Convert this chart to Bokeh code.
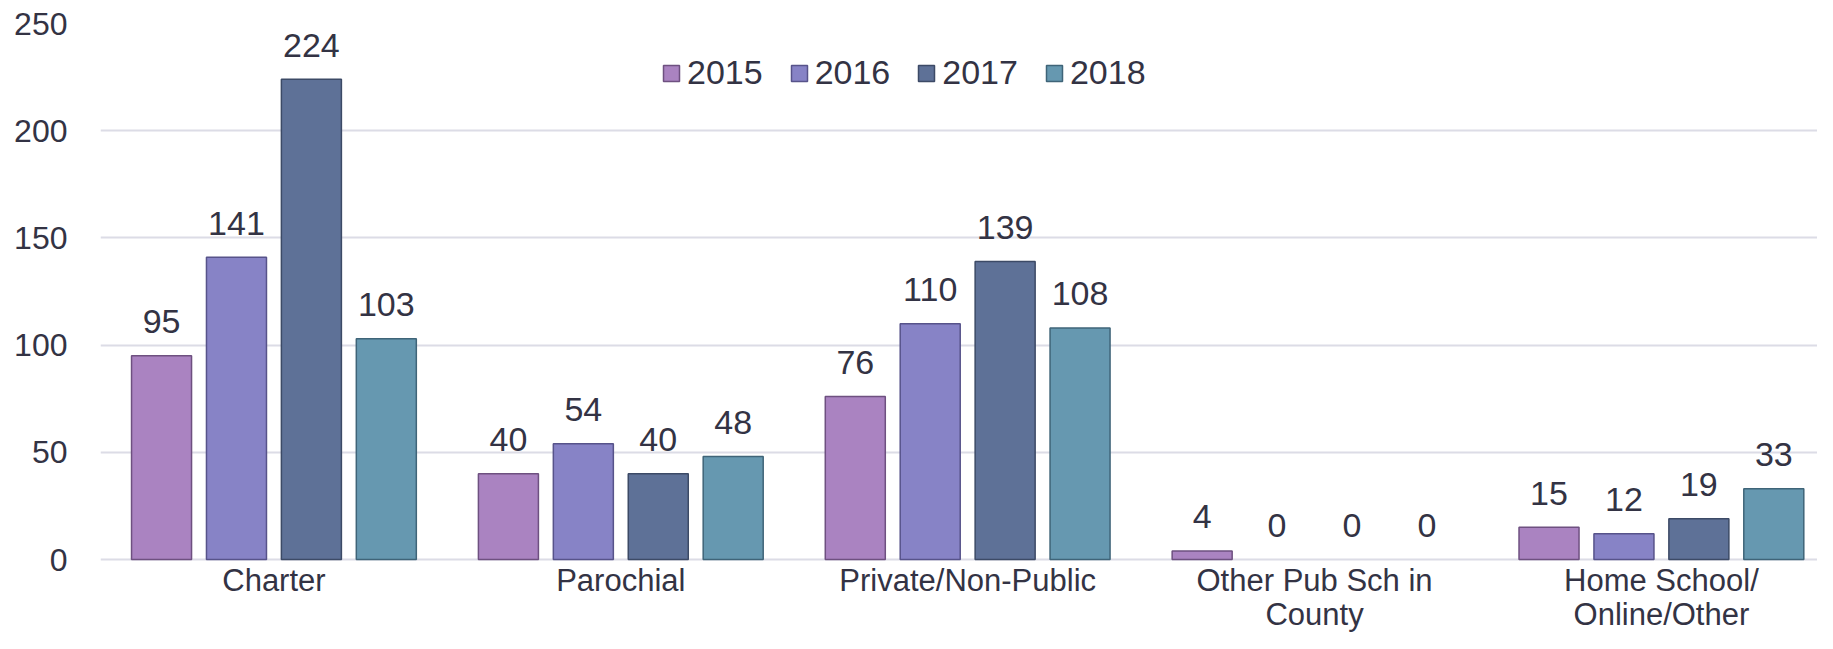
from bokeh.plotting import figure
from bokeh.models import Range1d, FixedTicker, Legend, LegendItem, ColumnDataSource
from bokeh.core.properties import value
from bokeh.embed import file_html
from bokeh.resources import INLINE

# ---- data ----
categories = ["Charter", "Parochial", "Private/Non-Public",
              "Other Pub Sch in County", "Home School/ Online/Other"]
tick_labels = ["Charter", "Parochial", "Private/Non-Public",
               "Other Pub Sch in\nCounty", "Home School/\nOnline/Other"]
years = ["2015", "2016", "2017", "2018"]
v2015 = [95, 40, 76, 4, 15]
v2016 = [141, 54, 110, 0, 12]
v2017 = [224, 40, 139, 0, 19]
v2018 = [103, 48, 108, 0, 33]
y_ticks = [0, 50, 100, 150, 200, 250]

series = [v2015, v2016, v2017, v2018]

# ---- styles ----
fills = ["#AA83C1", "#8783C6", "#5E7197", "#6698B0"]
edges = ["#6E5080", "#57538A", "#3C4A66", "#3F6478"]
TEXT = "#333344"
FONT = "Liberation Sans"
BAR_W = 0.173
STEP = 0.216

# frame runs to the bottom edge; the space below zero holds the category labels
p = figure(width=1817, height=633, output_backend="svg", toolbar_location=None,
           x_range=Range1d(-0.5, 4.45), y_range=Range1d(-34.5, 250),
           min_border_left=100, min_border_right=0, min_border_top=23,
           min_border_bottom=0)
p.outline_line_color = None
p.background_fill_color = "white"
p.border_fill_color = "white"

idx = list(range(len(categories)))
renderers = []
for j, (yr, vals) in enumerate(zip(years, series)):
    off = (j - 1.5) * STEP
    src = ColumnDataSource(dict(
        x=[i + off for i in idx],
        top=vals,
        label=[str(v) for v in vals],
        la=[1.0 if v > 0 else 0.0 for v in vals],
    ))
    r = p.vbar(x="x", top="top", bottom=0, width=BAR_W, source=src,
               fill_color=fills[j], line_color=edges[j], line_width=1.5,
               line_alpha="la")
    renderers.append(r)
    p.text(x="x", y="top", text="label", source=src, text_align="center",
           text_baseline="middle", y_offset=-34, text_color=TEXT,
           text_font=value(FONT), text_font_size="34px")

# category labels under each group
cat_src = ColumnDataSource(dict(x=idx, y=[0] * len(idx), text=tick_labels))
p.text(x="x", y="y", text="text", source=cat_src, text_align="center",
       text_baseline="top", y_offset=3, text_color=TEXT,
       text_font=value(FONT), text_font_size="31px", text_line_height=0.98)

p.xaxis.visible = False

p.yaxis.ticker = FixedTicker(ticks=y_ticks)
p.yaxis.major_label_text_font = FONT
p.yaxis.major_label_text_font_size = "32px"
p.yaxis.major_label_text_color = TEXT
p.yaxis.major_label_standoff = 33
p.yaxis.major_tick_out = 0
p.yaxis.major_tick_in = 0
p.yaxis.axis_line_color = None
p.yaxis.major_tick_line_color = None
p.yaxis.minor_tick_line_color = None

p.xgrid.grid_line_color = None
p.ygrid.ticker = FixedTicker(ticks=y_ticks)
p.ygrid.grid_line_color = "#DCDCE6"
p.ygrid.grid_line_width = 2
p.ygrid.level = "underlay"

legend = Legend(items=[LegendItem(label=yr, renderers=[r]) for yr, r in zip(years, renderers)],
                orientation="horizontal", location=(561, 541),
                glyph_width=20, glyph_height=20, label_standoff=6, spacing=26,
                label_text_font=FONT, label_text_font_size="34px",
                label_text_color=TEXT, border_line_color=None,
                background_fill_alpha=0, padding=0, margin=0)
p.add_layout(legend, "center")

open("out.html", "w").write(file_html(p, INLINE))
